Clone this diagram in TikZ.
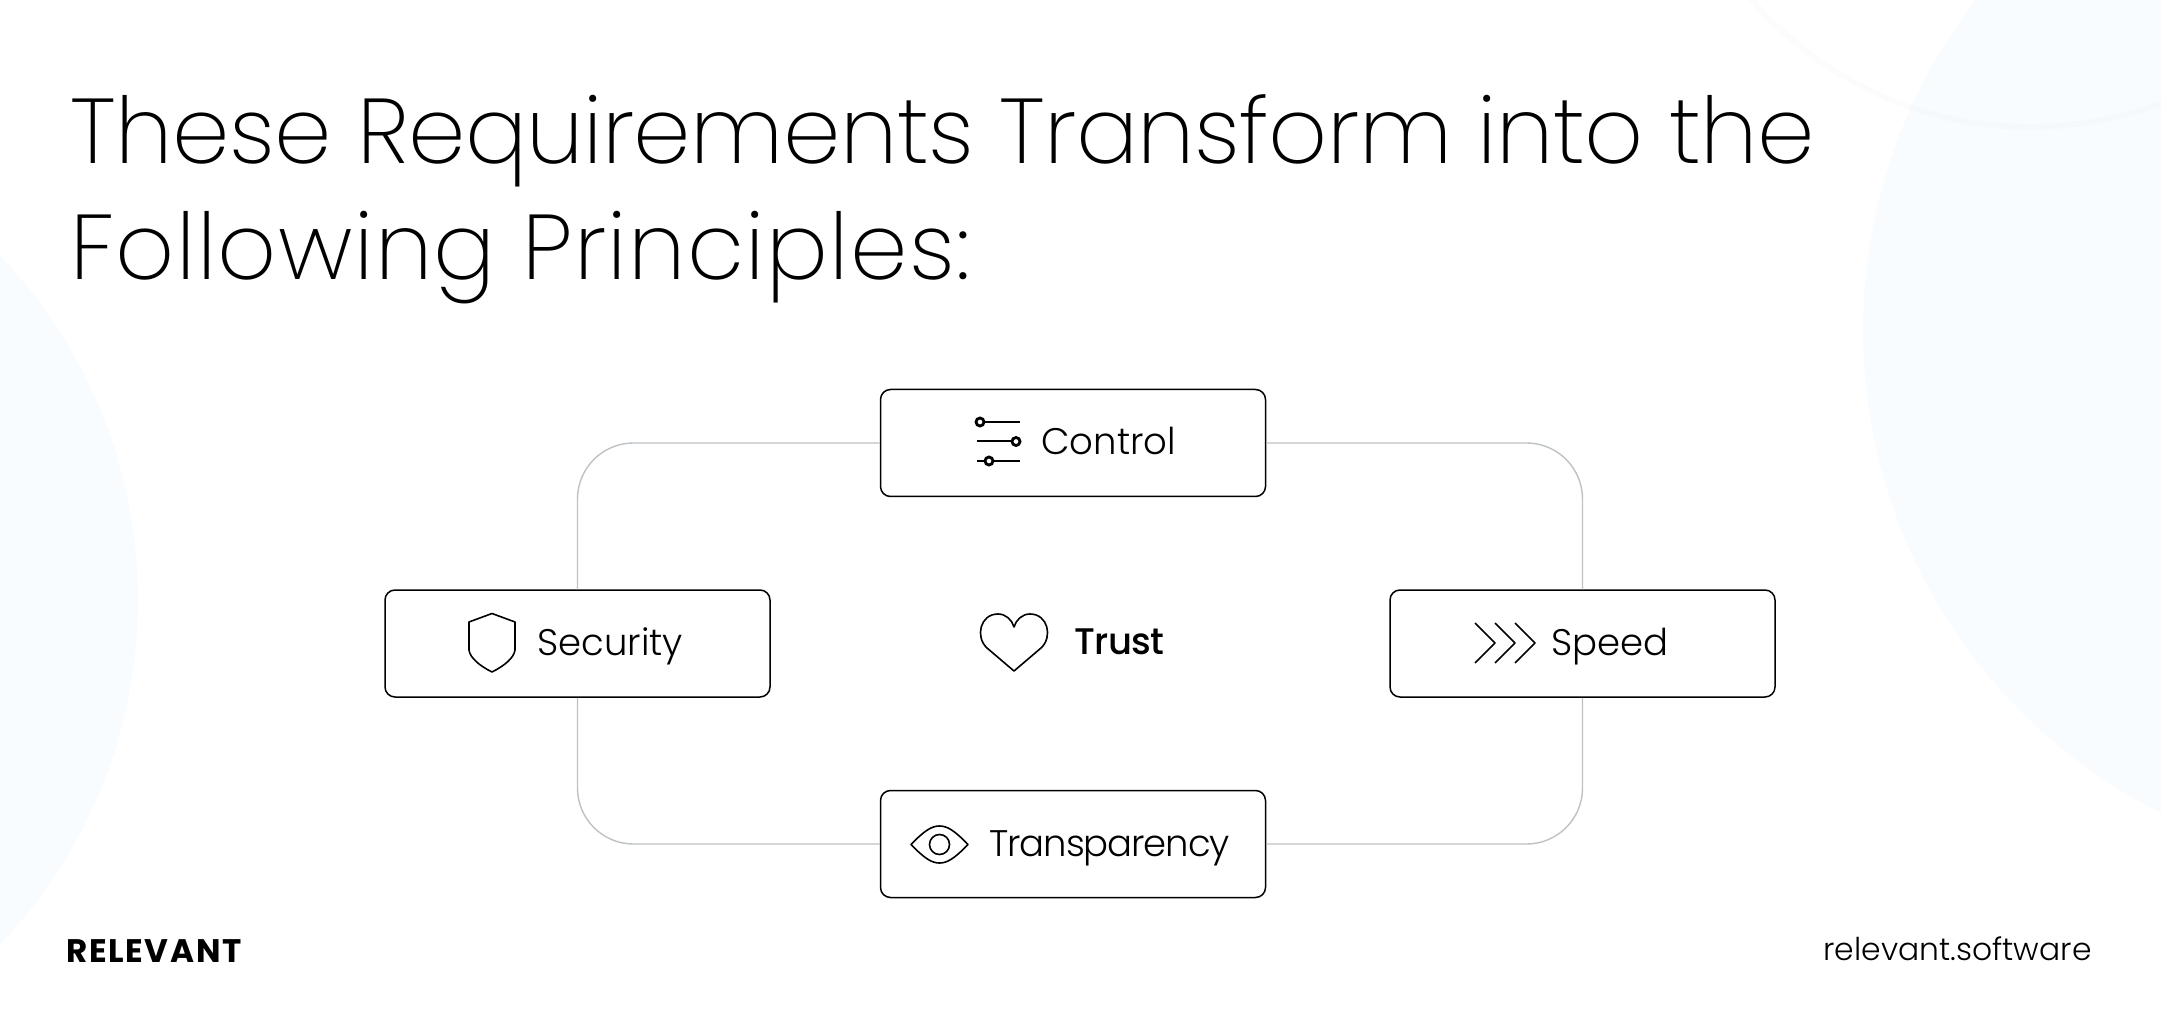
\documentclass[tikz,border=0pt]{standalone}
\usepackage{fontspec}
\setmainfont{Poppins}[UprightFont=* Light,BoldFont=* Medium]
\newfontfamily\ttl{Poppins}[UprightFont=* ExtraLight]
\newfontfamily\logofont{Poppins}[UprightFont=* Bold,LetterSpace=5]
\definecolor{bgblue}{HTML}{F9FCFE}
\definecolor{loopgrey}{HTML}{BCC2C6}
\tikzset{
  px/.style={x=0.5pt,y=-0.5pt},
  pill/.style={draw=black,line width=0.75pt,rounded corners=5pt,fill=white,minimum width=192.5pt,minimum height=53.5pt,inner sep=0pt},
  loopline/.style={draw=loopgrey,line width=0.7pt,rounded corners=28pt},
  icon/.style={draw=black,line width=0.8pt,line join=round},
  dialline/.style={draw=black,line width=1pt},
  dial/.style={draw=black,line width=1.4pt,fill=white},
  lbl/.style={inner sep=0pt,anchor=base west,font=\fontsize{18.5}{20}\selectfont},
  title/.style={inner sep=0pt,anchor=base west,font=\ttl\fontsize{46}{50}\selectfont},
}
\begin{document}
\begin{tikzpicture}[px]
\useasboundingbox (0,0) rectangle (2161,1031);
\begin{scope}
\clip (0,0) rectangle (2161,1031);
\fill[bgblue] (2403,330) circle[radius=540];
\fill[bgblue] (-362,600) circle[radius=500];
\draw[black,opacity=0.012,line width=3pt] (2030,-241) circle[radius=368];
\end{scope}
\node[title] (t1) at (70,163.5) {\addfontfeature{LetterSpace=-0.6}These Requirements Transform into the};
\node[title] (t2) at (70,280) {\addfontfeature{LetterSpace=1.45}Following Principles:};
\node[pill] (control) at (1073,443) {};
\node[pill] (security) at (577.5,643.5) {};
\node[pill] (speed) at (1582.5,643.5) {};
\node[pill] (transparency) at (1073,844) {};
\coordinate (nw) at (577.5,443);
\coordinate (ne) at (1582.5,443);
\coordinate (se) at (1582.5,844);
\coordinate (sw) at (577.5,844);
\draw[loopline] (control.west) -- (nw) -- (security.north);
\draw[loopline] (control.east) -- (ne) -- (speed.north);
\draw[loopline] (transparency.east) -- (se) -- (speed.south);
\draw[loopline] (transparency.west) -- (sw) -- (security.south);
\node[lbl] (lc) at (1041,455) {Control};
\node[lbl] (ls) at (537,655) {Security};
\node[lbl] (lsp) at (1551,655) {Speed};
\node[lbl] (lt) at (989,856) {\addfontfeature{LetterSpace=-3}Transparency};
\node[lbl,font=\bfseries\fontsize{18.5}{20}\selectfont] (ltr) at (1074,654.5) {\addfontfeature{LetterSpace=-2}Trust};
\node[inner sep=0pt,anchor=base west,font=\logofont\fontsize{16.3}{18}\selectfont] (rel) at (66,962) {RELEVANT};
\node[inner sep=0pt,anchor=base east,font=\fontsize{15.7}{18}\selectfont] (site) at (2092,960) {relevant.software};
% control icon
\draw[dialline] (980,422) -- (1020,422);
\draw[dialline] (977,441.5) -- (1016,441.5);
\draw[dialline] (977,461) -- (1020,461);
\draw[dial] (980,422) circle[radius=4];
\draw[dial] (1016,441.5) circle[radius=4];
\draw[dial] (989,461) circle[radius=4];
% shield
\draw[icon] (492,613.5) -- (469,622) -- (469,650) .. controls (470,658) and (480,666) .. (492,672) .. controls (504,666) and (514,658) .. (515,650) -- (515,622) -- cycle;
% chevrons
\foreach \dx in {0,20,40}{\draw[icon] (1475+\dx,623) -- (1495+\dx,643) -- (1475+\dx,663);}
% eye
\draw[icon] (911,844.5) .. controls (925,830) and (932,826) .. (939.5,826) .. controls (947,826) and (954,830) .. (968,844.5) .. controls (954,859) and (947,863) .. (939.5,863) .. controls (932,863) and (925,859) .. (911,844.5) -- cycle;
\draw[icon] (939.5,844.5) circle[radius=10];
% heart
\draw[icon] (1014,671) -- (987,648) .. controls (975,637) and (980,614) .. (998,614) .. controls (1006,614) and (1012,620) .. (1014,627) .. controls (1016,620) and (1022,614) .. (1030,614) .. controls (1048,614) and (1053,637) .. (1041,648) -- cycle;
\end{tikzpicture}
\end{document}
